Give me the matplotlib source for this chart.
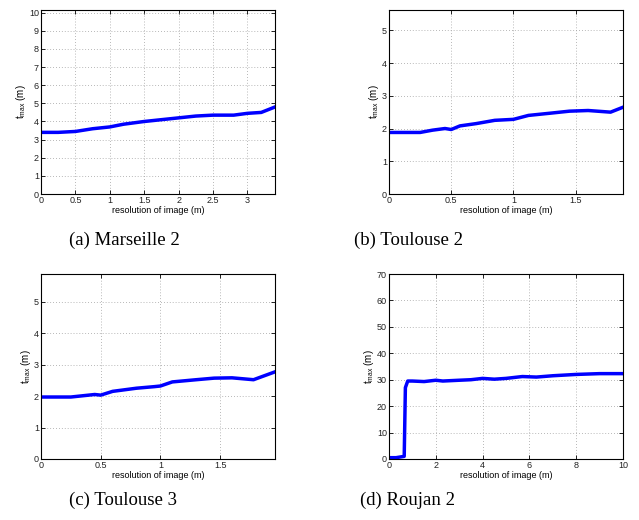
import numpy as np
import matplotlib
matplotlib.use('Agg')
import matplotlib.pyplot as plt

# (a) Marseille 2
xa = [0, 0.25, 0.5, 0.75, 1.0, 1.2, 1.5, 1.75, 2.0, 2.25, 2.5, 2.8, 3.0, 3.2, 3.4]
ya = [3.4, 3.4, 3.45, 3.6, 3.7, 3.85, 4.0, 4.1, 4.2, 4.3, 4.35, 4.35, 4.45, 4.5, 4.8]

# (b) Toulouse 2
xb = [0, 0.25, 0.35, 0.45, 0.5, 0.57, 0.7, 0.85, 1.0, 1.12, 1.3, 1.45, 1.6, 1.78, 1.88]
yb = [1.88, 1.88, 1.95, 2.0, 1.97, 2.08, 2.15, 2.25, 2.28, 2.4, 2.47, 2.53, 2.55, 2.5, 2.65]

# (c) Toulouse 3
xc = [0, 0.25, 0.45, 0.5, 0.6, 0.8, 0.95, 1.0, 1.1, 1.3, 1.45, 1.6, 1.78, 1.96]
yc = [1.97, 1.97, 2.05, 2.03, 2.15, 2.25, 2.3, 2.32, 2.45, 2.52, 2.57, 2.58, 2.52, 2.77]

# (d) Roujan 2
xd = [0, 0.3, 0.65, 0.7, 0.8, 1.0, 1.5, 2.0, 2.3, 3.0, 3.5, 4.0, 4.5, 5.0, 5.7, 6.3, 7.0, 8.0, 9.0, 10.0]
yd = [0.5, 0.5, 1.0, 27, 29.5, 29.5, 29.3, 29.8, 29.5, 29.8, 30.0, 30.5, 30.2, 30.5, 31.2, 31.0, 31.5, 32.0, 32.3, 32.3]

captions = ['(a) Marseille 2', '(b) Toulouse 2', '(c) Toulouse 3', '(d) Roujan 2']

plt.rcParams['font.family'] = 'Liberation Sans'
plt.rcParams['mathtext.fontset'] = 'custom'
plt.rcParams['mathtext.rm'] = 'Liberation Sans'

W, H = 639, 520
fig = plt.figure(figsize=(W / 100, H / 100), dpi=100)

# axes boxes in pixels: left, top, right, bottom
boxes = [(41, 10, 275, 194), (389, 10, 623, 194),
         (41, 274, 275, 459), (389, 274, 623, 459)]
panels = [
    (xa, ya, (0, 3.4), (0, 10.15), np.arange(0, 3.5, 0.5), np.arange(0, 11, 1)),
    (xb, yb, (0, 1.88), (0, 5.62), np.arange(0, 2, 0.5), np.arange(0, 6, 1)),
    (xc, yc, (0, 1.96), (0, 5.88), np.arange(0, 2, 0.5), np.arange(0, 6, 1)),
    (xd, yd, (0, 10), (0, 70), np.arange(0, 11, 2), np.arange(0, 71, 10)),
]
cap_pos = [(124, 240), (409, 240), (123, 500), (407, 500)]

for box, (x, y, xl, yl, xt, yt), cap, cp in zip(boxes, panels, captions, cap_pos):
    l, t, r, b = box
    ax = fig.add_axes([l / W, 1 - b / H, (r - l) / W, (b - t) / H])
    ax.plot(x, y, color='#0000ff', lw=2.5)
    ax.set_xlim(*xl)
    ax.set_ylim(*yl)
    ax.set_xticks(xt)
    ax.set_yticks(yt)
    ax.set_xticklabels(['%g' % v for v in xt])
    ax.set_yticklabels(['%g' % v for v in yt])
    ax.tick_params(direction='in', labelsize=6.5, length=3, width=0.6, pad=1.5,
                   top=True, right=True, labelcolor='#222222')
    ax.grid(True, linestyle=(0, (1, 2.5)), color='#a0a0a0', linewidth=0.6)
    for s in ax.spines.values():
        s.set_linewidth(0.8)
    ax.set_xlabel('resolution of image (m)', fontsize=6.5, labelpad=0.5)
    ax.set_ylabel(r'$\mathrm{t}_{\mathrm{max}}$ (m)', fontsize=7, labelpad=0.5)
    fig.text(cp[0] / W, 1 - cp[1] / H, cap, ha='center', va='center',
             fontsize=13.5, family='Liberation Serif')

fig.savefig('out.png', dpi=100)
